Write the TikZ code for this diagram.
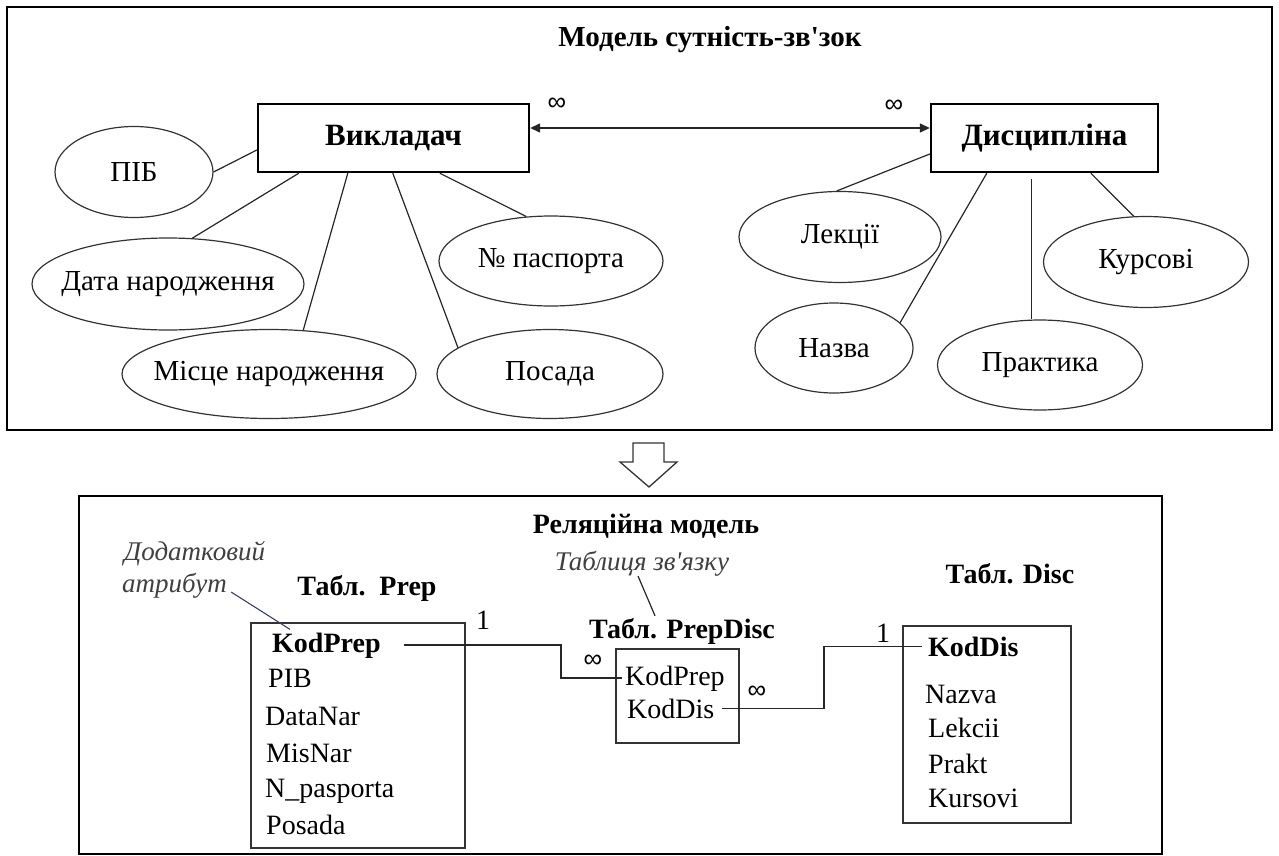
\documentclass[tikz,border=0pt]{standalone}
\usepackage{fontspec}
\setmainfont{Liberation Serif}[Ligatures=TeXOff]
\newfontfamily\symfont{Liberation Sans}
\usetikzlibrary{shapes.geometric,arrows.meta}
\begin{document}
\begin{tikzpicture}[x=1pt,y=-1pt,
  frame/.style={draw=black,line width=2.6pt},
  entity/.style={draw=black,line width=2.4pt,minimum height=68pt,inner sep=0pt,
    font=\fontsize{31}{36}\selectfont\bfseries},
  attr/.style={ellipse,draw=black!80,line width=1.2pt,inner sep=0pt},
  every label/.style={font=\fontsize{29}{34}\selectfont,inner sep=0pt},
  link/.style={draw=black!85,line width=1.2pt},
  rlink/.style={draw=black!85,line width=1.6pt},
  inf/.style={font=\symfont\fontsize{26}{28}\selectfont,inner sep=0pt},
  ttl/.style={font=\fontsize{29}{34}\selectfont\bfseries,inner sep=0pt},
  ttlb/.style={font=\fontsize{28}{32}\selectfont\bfseries,inner sep=0pt},
  note/.style={font=\fontsize{27}{31}\selectfont\itshape,text=black!75,inner sep=0pt},
  fld/.style={font=\fontsize{28}{32}\selectfont,inner sep=0pt,anchor=base west},
  fldb/.style={font=\fontsize{28}{32}\selectfont\bfseries,inner sep=0pt,anchor=base west},
  tbl/.style={draw=black!80,line width=1.5pt,inner sep=0pt},
  ptr/.style={draw={rgb,255:red,60;green,60;blue,110},line width=1.1pt}
]
\useasboundingbox (0,0) rectangle (1279,856);
\fill[white] (0,0) rectangle (1279,856);

% frames
\draw[frame] (7,7) rectangle (1272,430);
\draw[frame] (79,496) rectangle (1162,854);

% ---------- ER model ----------
\node[ttl,anchor=base] (t1) at (710,47) {Модель сутність-зв'зок};

\node[entity,minimum width=271pt] (vik) at (393.5,138) {Викладач};
\node[entity,minimum width=227pt] (dis) at (1044.5,138) {Дисципліна};

\draw[link,line width=1.4pt,{Triangle[length=10pt,width=9pt]}-{Triangle[length=10pt,width=9pt]}]
  ([yshift=10pt]vik.east) -- ([yshift=10pt]dis.west);
\node[inf] (inf1) at (557,104) {∞};
\node[inf] (inf2) at (894,106) {∞};

\node[attr,minimum width=158pt,minimum height=91pt,label=center:ПІБ] (pib) at (134,172) {};
\node[attr,minimum width=272pt,minimum height=92pt,label=center:Дата народження] (data) at (168,284) {};
\node[attr,minimum width=294pt,minimum height=89pt,label=center:Місце народження] (mis) at (269,374) {};
\node[attr,minimum width=226pt,minimum height=89pt,label=center:Посада] (pos) at (550,374) {};
\node[attr,minimum width=224pt,minimum height=90pt,label=center:№ паспорта] (pas) at (551,261) {};

\draw[link] (pib.east) -- ([yshift=-12pt]vik.west);
\draw[link] (data.62) -- ([xshift=42pt]vik.south west);
\draw[link] (mis.52) -- ([xshift=91pt]vik.south west);
\draw[link] (pos.164) -- ([xshift=136pt]vik.south west);
\draw[link] (pas.119) -- ([xshift=183pt]vik.south west);

\node[attr,minimum width=202pt,minimum height=91pt,label=center:Лекції] (lek) at (840,237) {};
\node[attr,minimum width=158pt,minimum height=90pt,label=center:Назва] (naz) at (834,348) {};
\node[attr,minimum width=205pt,minimum height=90pt,label=center:Практика] (prak) at (1040,365) {};
\node[attr,minimum width=205pt,minimum height=91pt,label=center:Курсові] (kurs) at (1146,262) {};

\draw[link] (lek.94) -- ([yshift=-16pt]dis.west);
\draw[link] (naz.21) -- ([xshift=57pt]dis.south west);
\coordinate (prtop) at ([xshift=102pt,yshift=-6pt]dis.south west);
\draw[link] (prtop) -- (prtop |- prak.north);
\draw[link] (kurs.105) -- ([xshift=161pt]dis.south west);

% transition arrow
\draw[draw=black!80,line width=1.3pt,fill=white]
  (633,443) -- (664,443) -- (664,462) -- (677,462) -- (649,487) -- (620,462) -- (633,462) -- cycle;

% ---------- relational model ----------
\node[ttlb,anchor=base] (t2) at (646,533) {Реляційна модель};
\node[note,anchor=base] (tz) at (642,570) {Таблиця зв'язку};

% Prep
\node[ttlb,anchor=base] (prt) at (367,595) {Табл.\ \ Prep};
\node[note,anchor=base west] (da1) at (124,560) {Додатковий};
\node[note,anchor=base west] (da2) at (122,592) {атрибут};
\node[tbl,minimum width=214pt,minimum height=225pt] (prepbox) at (358,735.5) {};
\node[fldb] (kp1) at (272,652) {KodPrep};
\node[fld] (f2) at (268,687) {PIB};
\node[fld] (f3) at (265,725) {DataNar};
\node[fld] (f4) at (266,762) {MisNar};
\node[fld] (f5) at (265,797) {N\_pasporta};
\node[fld] (f6) at (266,834) {Posada};
\draw[ptr] ([xshift=4pt]da2.base east) -- ([xshift=18pt,yshift=3pt]kp1.north west);
\node[fld,anchor=base] (one1) at (483,629) {1};

% PrepDisc
\node[ttlb,anchor=base] (pdt) at (682,638) {Табл. PrepDisc};
\draw[link] ([xshift=-4pt]tz.south) -- ([xshift=-27pt,yshift=2pt]pdt.north);
\node[tbl,minimum width=123pt,minimum height=94pt] (pdbox) at (677.5,696) {};
\node[fld] (pdkp) at (625,685) {KodPrep};
\node[fld] (pdkd) at (627,718) {KodDis};
\node[inf] (inf3) at (593,661) {∞};
\node[inf] (inf4) at (757,692) {∞};

% Disc
\node[ttlb,anchor=base] (dt) at (1010,583) {Табл. Disc};
\node[tbl,minimum width=168pt,minimum height=197pt] (discbox) at (987,724.5) {};
\node[fldb] (dkd) at (928,656) {KodDis};
\node[fld] (g2) at (925,703) {Nazva};
\node[fld] (g3) at (928,737) {Lekcii};
\node[fld] (g4) at (928,773) {Prakt};
\node[fld] (g5) at (928,807) {Kursovi};
\node[fld,anchor=base] (one2) at (883,642) {1};

% connectors
\coordinate (bend1) at (538,660);
\coordinate (bend2) at (817,680);
\draw[rlink] ([xshift=23pt]kp1.east) -- ([xshift=23pt]kp1.east -| bend1) |- ([xshift=-3pt]pdkp.west);
\draw[rlink] ([xshift=7pt]pdkd.east) -- ([xshift=7pt]pdkd.east -| bend2) |- ([xshift=-6pt]dkd.west);
\end{tikzpicture}
\end{document}
